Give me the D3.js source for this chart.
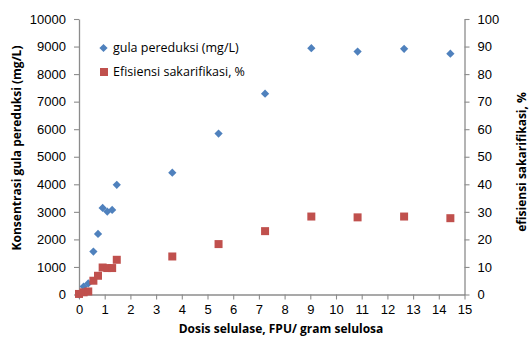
<!DOCTYPE html>
<html>
<head>
<meta charset="utf-8">
<script src="https://cdn.jsdelivr.net/npm/d3@7/dist/d3.min.js"></script>
<style>
  body { margin: 0; background: #fff; }
  svg { display: block; font-family: "Open Sans", "DejaVu Sans", sans-serif; }
</style>
</head>
<body>
<svg id="chart" width="531" height="338"></svg>
<script>
// dose of cellulase (FPU / gram selulosa)
const dosis = [0, 0.18, 0.36, 0.56, 0.74, 0.92, 1.1, 1.29, 1.47, 3.63, 5.43, 7.24, 9.04, 10.84, 12.65, 14.45];
// gula pereduksi (mg/L) - left axis
const gula = [0, 290, 400, 1560, 2200, 3140, 3010, 3070, 3980, 4420, 5840, 7290, 8940, 8820, 8920, 8740];
// efisiensi sakarifikasi (%) - right axis
const efisiensi = [0.2, 0.8, 1.1, 5.0, 6.8, 9.8, 9.6, 9.6, 12.6, 13.8, 18.3, 23.0, 28.3, 28.0, 28.3, 27.7];

const xTicks = d3.range(0, 16, 1);
const yLeftTicks = d3.range(0, 10001, 1000);
const yRightTicks = d3.range(0, 101, 10);

const seriesNames = ['gula pereduksi (mg/L)', 'Efisiensi sakarifikasi, %'];

// ─── layout ──────────────────────────────────────────────────────────────────
const M = { left: 79, right: 464.5, top: 19, bottom: 294.5 };
const AXIS = '#8c8c8c';
const BLUE = '#4f81bd';
const RED = '#c0504d';

const svg = d3.select('#chart');

const x = d3.scaleLinear().domain([0, 15]).range([M.left, M.right]);
const yL = d3.scaleLinear().domain([0, 10000]).range([M.bottom, M.top]);
const yR = d3.scaleLinear().domain([0, 100]).range([M.bottom, M.top]);

function styleAxis(g) {
  g.select('.domain').attr('stroke', AXIS).attr('stroke-width', 1.3);
  g.selectAll('.tick line').attr('stroke', AXIS).attr('stroke-width', 1.1);
  g.selectAll('.tick text').attr('fill', '#000').style('font-size', '13px');
}

svg.append('g')
  .attr('transform', `translate(0,${M.bottom})`)
  .call(d3.axisBottom(x).tickValues(xTicks).tickFormat(d3.format('d')).tickSize(5).tickSizeOuter(0).tickPadding(5))
  .call(styleAxis);

svg.append('g')
  .attr('transform', `translate(${M.left},0)`)
  .call(d3.axisLeft(yL).tickValues(yLeftTicks).tickFormat(d3.format('d')).tickSize(5).tickSizeOuter(0).tickPadding(8))
  .call(styleAxis);

svg.append('g')
  .attr('transform', `translate(${M.right},0)`)
  .call(d3.axisRight(yR).tickValues(yRightTicks).tickFormat(d3.format('d')).tickSize(5).tickSizeOuter(0).tickPadding(8))
  .call(styleAxis);

// ─── marks ───────────────────────────────────────────────────────────────────
const diamond = d3.symbol().type(d3.symbolSquare).size(34);
const square = d3.symbol().type(d3.symbolSquare).size(64);

svg.append('g').selectAll('path')
  .data(dosis.map((d, i) => [d, gula[i]]))
  .join('path')
  .attr('d', diamond)
  .attr('fill', BLUE)
  .attr('transform', (d) => `translate(${x(d[0])},${yL(d[1])}) rotate(45)`);

svg.append('g').selectAll('path')
  .data(dosis.map((d, i) => [d, efisiensi[i]]))
  .join('path')
  .attr('d', square)
  .attr('fill', RED)
  .attr('transform', (d) => `translate(${x(d[0])},${yR(d[1])})`);

// ─── legend ──────────────────────────────────────────────────────────────────
const legend = svg.append('g');
legend.append('path').attr('d', diamond).attr('fill', BLUE)
  .attr('transform', 'translate(103.5,48) rotate(45)');
legend.append('path').attr('d', square).attr('fill', RED)
  .attr('transform', 'translate(104,72)');
legend.selectAll('text')
  .data(seriesNames)
  .join('text')
  .attr('x', 113)
  .attr('y', (d, i) => 48 + i * 24)
  .attr('dy', '0.35em')
  .style('font-size', '12.5px')
  .text((d) => d);

// ─── axis titles ─────────────────────────────────────────────────────────────
svg.append('text')
  .attr('x', 281).attr('y', 333)
  .attr('text-anchor', 'middle')
  .style('font-size', '12px').style('font-weight', 'bold')
  .text('Dosis selulase, FPU/ gram selulosa');

svg.append('text')
  .attr('transform', 'translate(21,148) rotate(-90)')
  .attr('text-anchor', 'middle')
  .style('font-size', '12px').style('font-weight', 'bold')
  .text('Konsentrasi gula pereduksi (mg/L)');

svg.append('text')
  .attr('transform', 'translate(526,162) rotate(-90)')
  .attr('text-anchor', 'middle')
  .style('font-size', '12px').style('font-weight', 'bold')
  .text('efisiensi sakarifikasi, %');
</script>
</body>
</html>
